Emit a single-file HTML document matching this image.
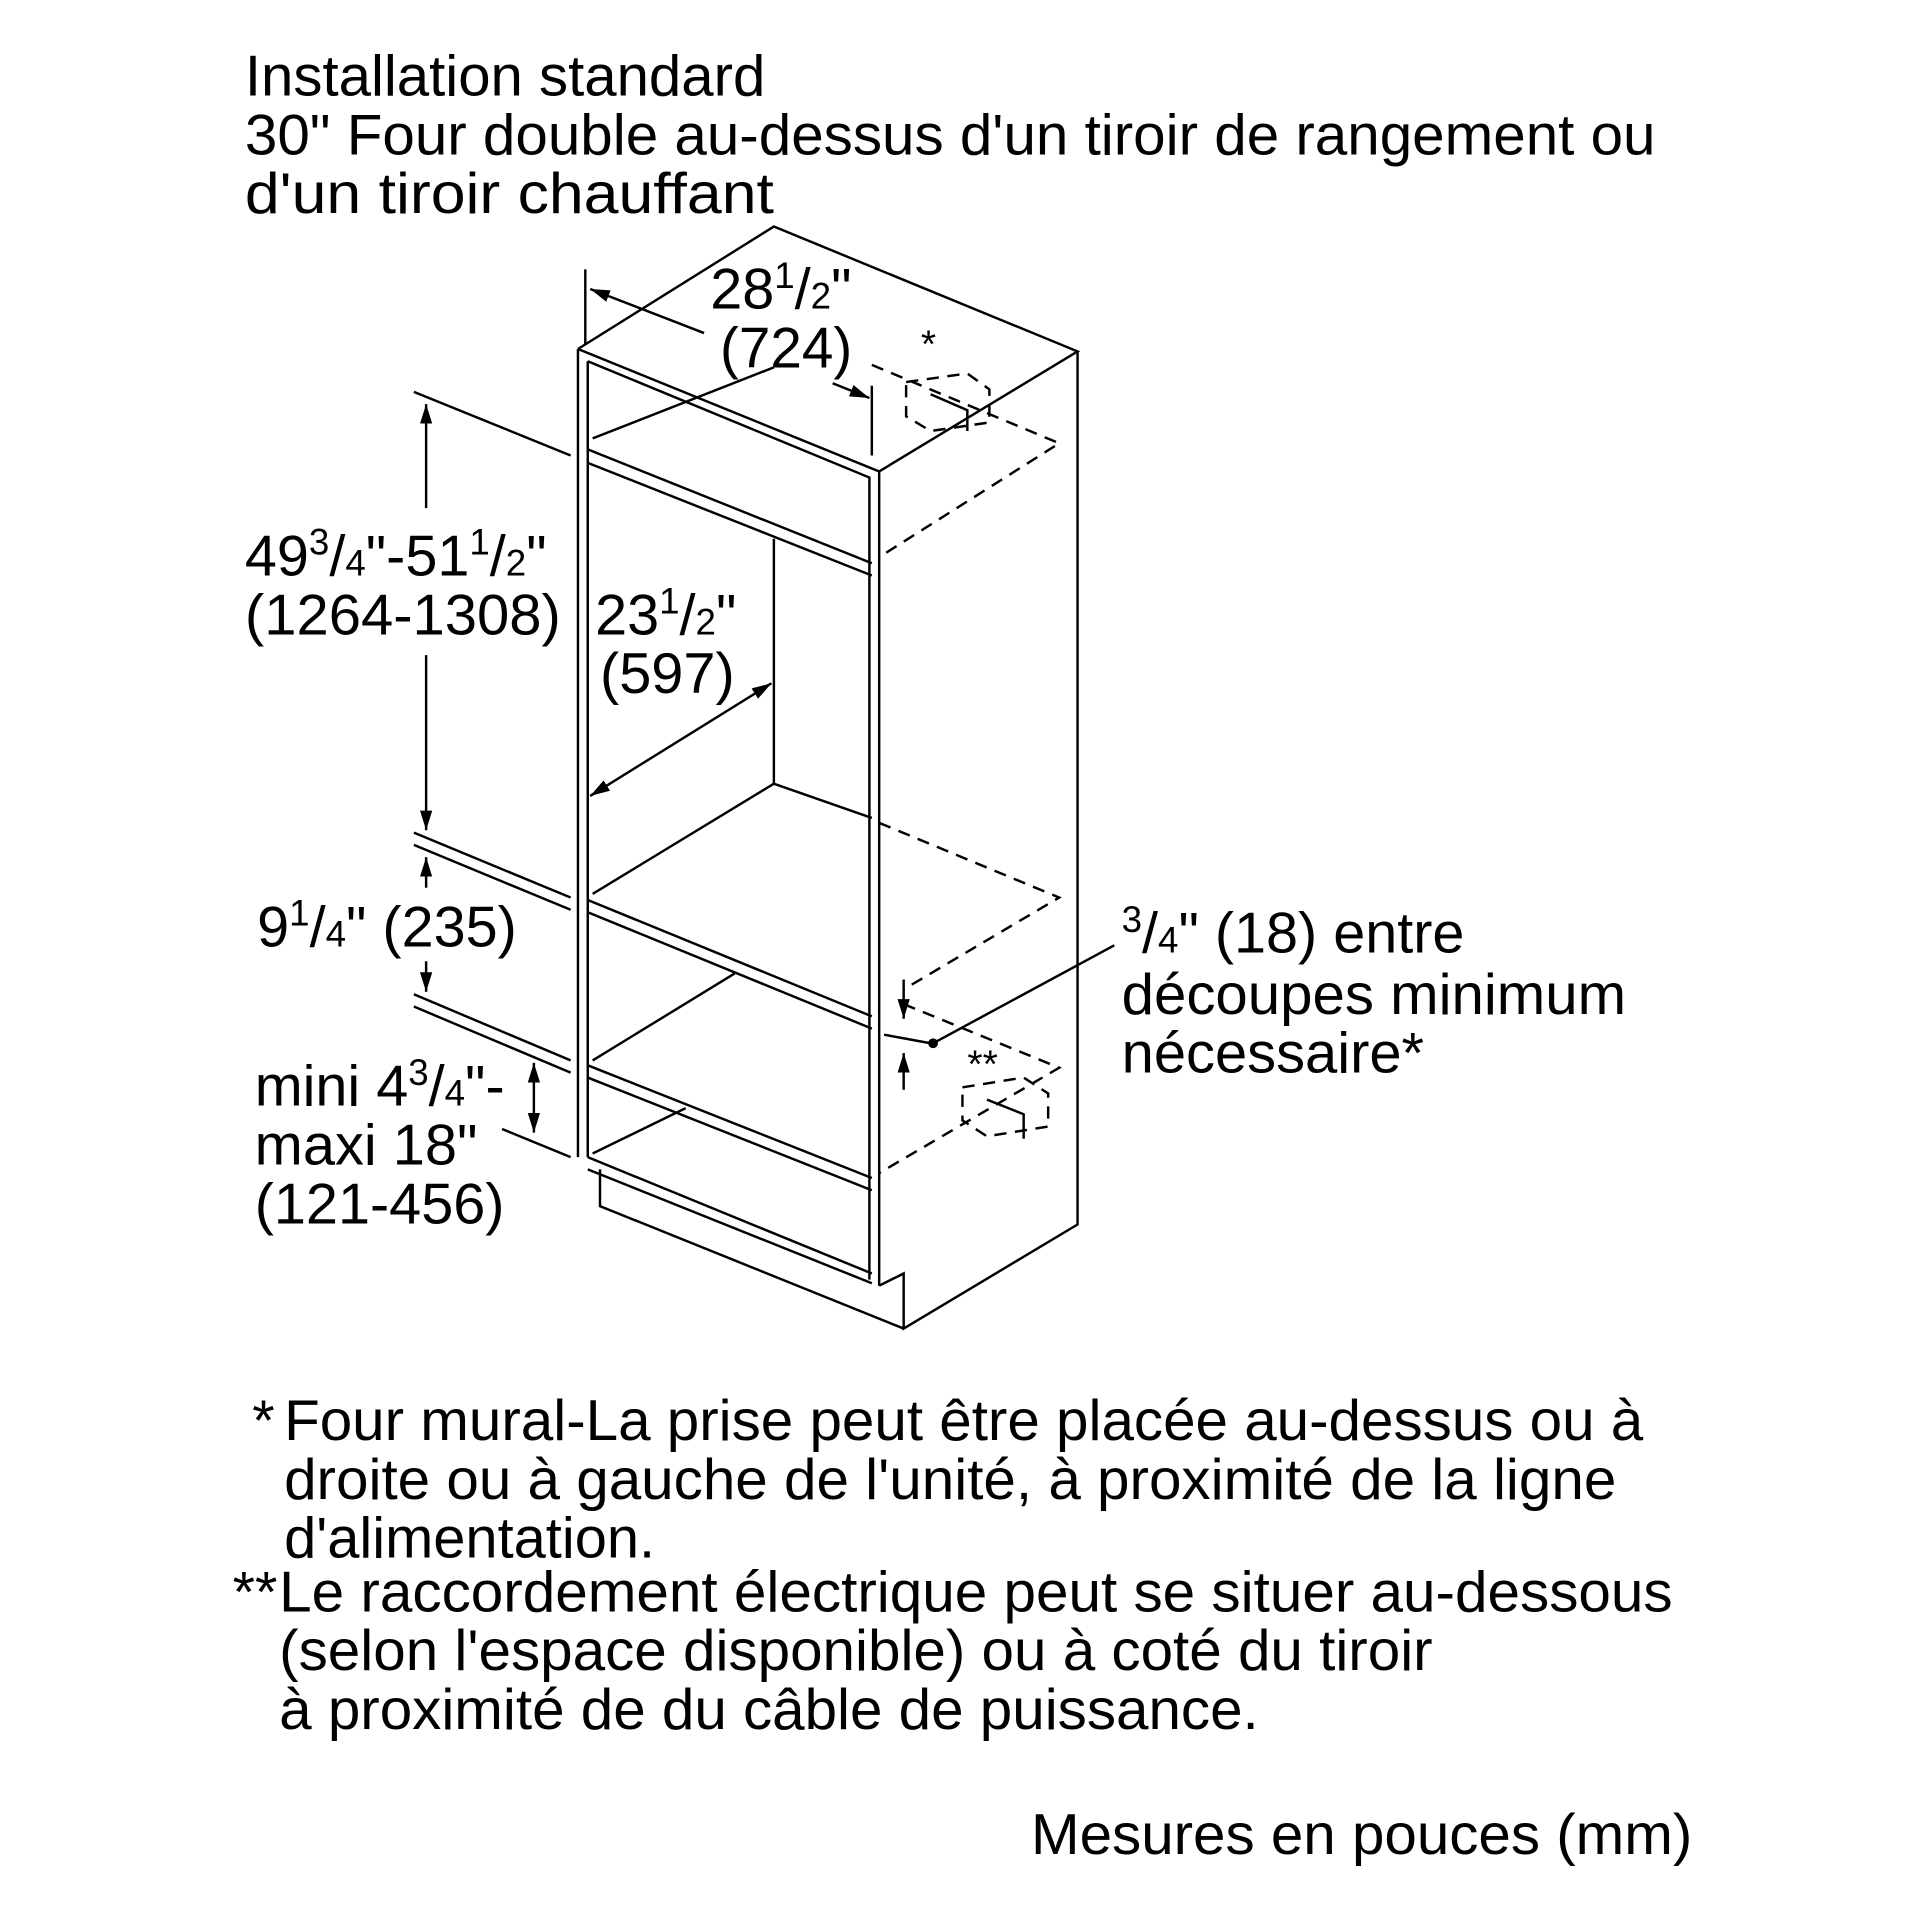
<!DOCTYPE html>
<html><head><meta charset="utf-8"><style>
html,body{margin:0;padding:0;background:#fff;}
svg{display:block;}
text{font-family:"Liberation Sans",Arial,sans-serif;fill:#000;}
</style></head><body>
<svg width="1920" height="1920" viewBox="0 0 1568 1568" xmlns="http://www.w3.org/2000/svg">
<defs>
<marker id="a" viewBox="0 0 16 12" refX="16" refY="6" markerWidth="16" markerHeight="12" orient="auto-start-reverse" markerUnits="userSpaceOnUse"><path d="M0,1 L16,6 L0,11 Z" fill="#000"/></marker>
</defs>
<g font-size="47" lengthAdjust="spacingAndGlyphs">
<text x="200" y="78" textLength="425" lengthAdjust="spacingAndGlyphs">Installation standard</text>
<text x="200" y="126" textLength="1152" lengthAdjust="spacingAndGlyphs">30" Four double au-dessus d'un tiroir de rangement ou</text>
<text x="200" y="174" textLength="432" lengthAdjust="spacingAndGlyphs">d'un tiroir chauffant</text>
</g>
<g stroke="#000" stroke-width="2" fill="none">
<path d="M472,285 L632,185 L880,287 L718,385"/>
<path d="M880,287 L880,1000 L738,1085 L738,1040 L718,1050"/>
<path d="M472,285 L472,945"/>
<path d="M480,295 L480,945"/>
<path d="M472,285 L718,385 L718,1050"/>
<path d="M480,295 L710,390 L710,1045"/>
<path d="M490,955 L490,985 L738,1085"/>
<path d="M480,367 L712,460"/><path d="M480,378 L712,470"/>
<path d="M484,358 L632,300"/>
<path d="M632,440 L632,640"/>
<path d="M480,735 L712,830"/><path d="M480,745 L712,840"/>
<path d="M484,730 L632,640 L712,668"/>
<path d="M480,870 L712,962"/><path d="M480,880 L712,972"/>
<path d="M484,866 L600,795"/>
<path d="M480,945 L712,1040"/><path d="M480,955 L712,1048"/>
<path d="M484,942 L560,905"/>
<g stroke-dasharray="10,7">
<path d="M712,298 L865,362 L718,455"/>
<path d="M718,672 L865,733 L738,808"/>
<path d="M738,820 L865,872 L718,958"/>
<path d="M740,312 L790,305 L808,318 L808,345 L760,352 L740,340 Z"/>
<path d="M786,888 L836,880 L856,893 L856,920 L806,928 L786,915 Z"/>
</g>
<path d="M760,322 L790,335 L790,352"/>
<path d="M806,898 L836,910 L836,930"/>
<path d="M338,320 L466,372"/>
<path d="M338,680 L466,733"/><path d="M338,690 L466,743"/>
<path d="M338,812 L466,866"/><path d="M338,822 L466,876"/>
<path d="M410,922 L466,945"/>
<path d="M348,330 L348,415" marker-start="url(#a)"/>
<path d="M348,535 L348,678" marker-end="url(#a)"/>
<path d="M348,700 L348,725" marker-start="url(#a)"/>
<path d="M348,785 L348,810" marker-end="url(#a)"/>
<path d="M436,868 L436,925" marker-start="url(#a)" marker-end="url(#a)"/>
<path d="M478,220 L478,282"/>
<path d="M712,315 L712,372"/>
<path d="M482,236 L575,272" marker-start="url(#a)"/>
<path d="M680,313 L710,325" marker-end="url(#a)"/>
<path d="M482,650 L630,558" marker-start="url(#a)" marker-end="url(#a)"/>
<path d="M738,800 L738,832" marker-end="url(#a)"/>
<path d="M738,890 L738,860" marker-end="url(#a)"/>
<path d="M722,845 L760,852"/>
<path d="M762,852 L910,772"/>
</g>
<circle cx="762" cy="852" r="4" fill="#000"/>
<g font-size="47">
<text x="580" y="252">28<tspan font-size="30" dy="-17">1</tspan><tspan dy="17">/</tspan><tspan font-size="30">2</tspan>"</text>
<text x="588" y="300" textLength="108" lengthAdjust="spacingAndGlyphs">(724)</text>
<text x="752" y="292" font-size="32">*</text>
<text x="200" y="470">49<tspan font-size="30" dy="-17">3</tspan><tspan dy="17">/</tspan><tspan font-size="30">4</tspan>"-51<tspan font-size="30" dy="-17">1</tspan><tspan dy="17">/</tspan><tspan font-size="30">2</tspan>"</text>
<text x="200" y="518" textLength="258" lengthAdjust="spacingAndGlyphs">(1264-1308)</text>
<text x="486" y="518">23<tspan font-size="30" dy="-17">1</tspan><tspan dy="17">/</tspan><tspan font-size="30">2</tspan>"</text>
<text x="490" y="566" textLength="110" lengthAdjust="spacingAndGlyphs">(597)</text>
<text x="210" y="773">9<tspan font-size="30" dy="-17">1</tspan><tspan dy="17">/</tspan><tspan font-size="30">4</tspan>" (235)</text>
<text x="208" y="903">mini 4<tspan font-size="30" dy="-17">3</tspan><tspan dy="17">/</tspan><tspan font-size="30">4</tspan>"-</text>
<text x="208" y="951" textLength="182" lengthAdjust="spacingAndGlyphs">maxi 18"</text>
<text x="208" y="999" textLength="204" lengthAdjust="spacingAndGlyphs">(121-456)</text>
<text x="790" y="880" font-size="32">**</text>
<text x="916" y="778"><tspan font-size="30" dy="-17">3</tspan><tspan dy="17">/</tspan><tspan font-size="30">4</tspan>" (18) entre</text>
<text x="916" y="828" textLength="412" lengthAdjust="spacingAndGlyphs">découpes minimum</text>
<text x="916" y="876" textLength="247" lengthAdjust="spacingAndGlyphs">nécessaire*</text>
<text x="206" y="1176">*</text>
<text x="232" y="1176" textLength="1110" lengthAdjust="spacingAndGlyphs">Four mural-La prise peut être placée au-dessus ou à</text>
<text x="232" y="1224" textLength="1088" lengthAdjust="spacingAndGlyphs">droite ou à gauche de l'unité, à proximité de la ligne</text>
<text x="232" y="1272" textLength="303" lengthAdjust="spacingAndGlyphs">d'alimentation.</text>
<text x="190" y="1316">**</text>
<text x="228" y="1316" textLength="1138" lengthAdjust="spacingAndGlyphs">Le raccordement électrique peut se situer au-dessous</text>
<text x="228" y="1364" textLength="942" lengthAdjust="spacingAndGlyphs">(selon l'espace disponible) ou à coté du tiroir</text>
<text x="228" y="1412" textLength="800" lengthAdjust="spacingAndGlyphs">à proximité de du câble de puissance.</text>
<text x="842" y="1514" textLength="540" lengthAdjust="spacingAndGlyphs">Mesures en pouces (mm)</text>
</g>
</svg>
</body></html>
